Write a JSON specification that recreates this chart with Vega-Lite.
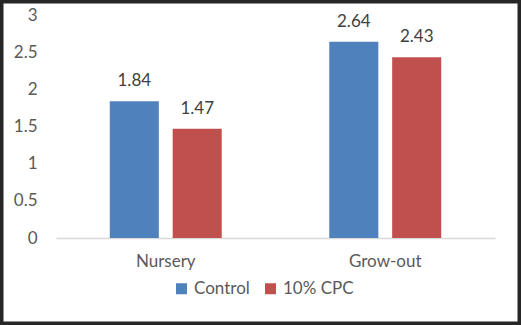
{
  "$schema": "https://vega.github.io/schema/vega-lite/v6.json",
  "width": 521,
  "height": 325,
  "autosize": {"type": "none"},
  "padding": 0,
  "background": "white",
  "config": {
    "view": {"stroke": "#262626", "strokeWidth": 7},
    "font": "Lato"
  },
  "data": {
    "values": [
      {"stage": "Nursery", "treatment": "Control", "value": 1.84},
      {"stage": "Nursery", "treatment": "10% CPC", "value": 1.47},
      {"stage": "Grow-out", "treatment": "Control", "value": 2.64},
      {"stage": "Grow-out", "treatment": "10% CPC", "value": 2.43}
    ]
  },
  "encoding": {
    "x": {
      "field": "stage", "type": "nominal", "sort": ["Nursery", "Grow-out"],
      "scale": {"range": [56, 495], "paddingInner": 0.49, "paddingOuter": 0.245},
      "axis": {"title": null, "orient": "bottom", "offset": -87, "labelAngle": 0,
        "domainColor": "#d9d9d9", "domainWidth": 1.5, "ticks": false, "tickSize": 0,
        "labelPadding": 15, "labelFontSize": 17, "labelColor": "#595959", "labelFont": "Lato"}
    },
    "xOffset": {
      "field": "treatment", "type": "nominal", "sort": ["Control", "10% CPC"],
      "scale": {"paddingInner": 0.22, "paddingOuter": 0}
    },
    "y": {
      "field": "value", "type": "quantitative",
      "scale": {"domain": [0, 3], "range": [238, 15], "nice": false, "zero": true},
      "axis": {"title": null, "offset": -50, "values": [0, 0.5, 1, 1.5, 2, 2.5, 3],
        "format": "~g",
        "domain": false, "ticks": false, "tickSize": 0, "grid": false,
        "labelPadding": 13, "labelFontSize": 17, "labelColor": "#595959", "labelFont": "Lato"}
    }
  },
  "layer": [
    {
      "mark": {"type": "bar"},
      "encoding": {
        "color": {
          "field": "treatment", "type": "nominal", "sort": ["Control", "10% CPC"],
          "scale": {"domain": ["Control", "10% CPC"], "range": ["#4F81BD", "#C0504D"]},
          "legend": {"title": null, "orient": "none", "legendX": 173, "legendY": 280,
            "direction": "horizontal", "symbolType": "square", "symbolSize": 121,
            "symbolStrokeWidth": 0, "labelFontSize": 17, "labelColor": "#595959",
            "labelFont": "Lato", "columnPadding": 12, "labelOffset": 4}
        }
      }
    },
    {
      "mark": {"type": "text", "baseline": "bottom", "dy": -11, "fontSize": 17, "color": "#404040", "font": "Lato"},
      "encoding": {
        "text": {"field": "value", "type": "quantitative", "format": ".2f"}
      }
    }
  ]
}
